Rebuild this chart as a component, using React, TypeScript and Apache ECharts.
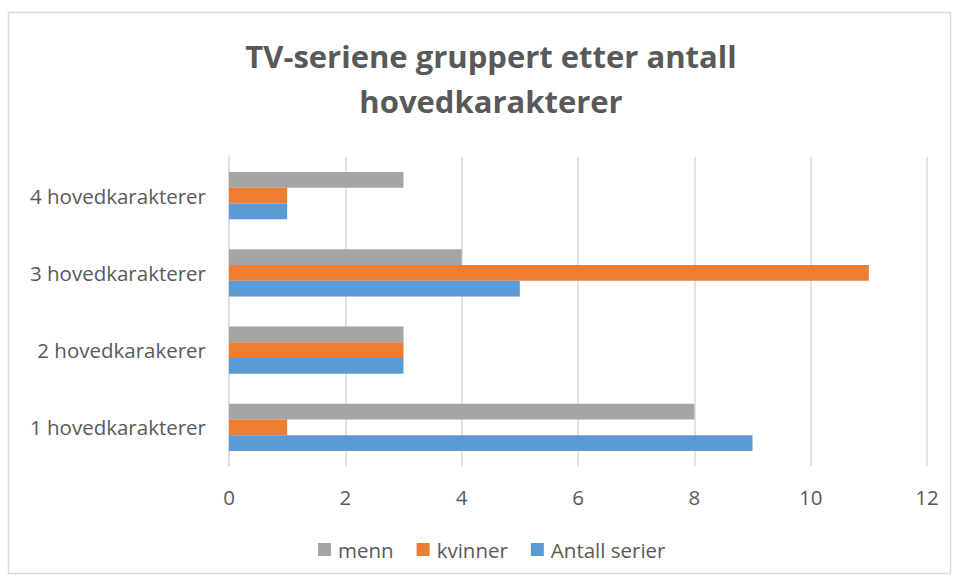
import React, { useEffect, useRef } from "react";
import * as echarts from "echarts";

const categories = ["1 hovedkarakterer", "2 hovedkarakerer", "3 hovedkarakterer", "4 hovedkarakterer"];
const antallSerier = [9, 3, 5, 1];
const kvinner = [1, 3, 11, 1];
const menn = [8, 3, 4, 3];
const xTicks = { min: 0, max: 12, interval: 2 };

const TEXT = "#595959";
const FONT = "'Open Sans', 'Liberation Sans', sans-serif";

export default function App() {
  const ref = useRef<HTMLDivElement>(null);
  useEffect(() => {
    const chart = echarts.init(ref.current!, null, { renderer: "svg" });
    chart.setOption({
      animation: false,
      backgroundColor: "#ffffff",
      textStyle: { fontFamily: FONT },
      title: {
        text: "TV-seriene gruppert etter antall\nhovedkarakterer",
        left: 486,
        top: 28,
        textAlign: "center",
        textStyle: { fontFamily: FONT, fontWeight: "bold", fontSize: 31, color: TEXT, lineHeight: 45 },
      },
      graphic: [
        {
          type: "rect",
          shape: { x: 8.5, y: 12.5, width: 942, height: 561 },
          style: { fill: "none", stroke: "#D9D9D9", lineWidth: 1.5 },
          silent: true,
        },
      ],
      legend: {
        data: ["menn", "kvinner", "Antall serier"],
        bottom: 16,
        left: 313,
        itemWidth: 13,
        itemHeight: 13,
        itemGap: 23,
        icon: "rect",
        textStyle: { fontFamily: FONT, fontSize: 20.5, color: TEXT, padding: [0, 0, 0, 2] },
      },
      grid: { left: 229, right: 32, top: 157, bottom: 115, containLabel: false },
      xAxis: {
        type: "value",
        min: xTicks.min,
        max: xTicks.max,
        interval: xTicks.interval,
        axisLine: { show: false },
        axisTick: { show: false },
        splitLine: { lineStyle: { color: "#D9D9D9", width: 1.5 } },
        axisLabel: { color: TEXT, fontSize: 20.5, fontFamily: FONT, margin: 20 },
      },
      yAxis: {
        type: "category",
        data: categories,
        axisLine: { show: true, lineStyle: { color: "#D9D9D9", width: 1.5 } },
        axisTick: { show: false },
        axisLabel: { color: TEXT, fontSize: 20.5, fontFamily: FONT, margin: 23 },
      },
      series: [
        { name: "menn", type: "bar", data: menn, itemStyle: { color: "#A5A5A5" }, barGap: "0%", barCategoryGap: "39%" },
        { name: "kvinner", type: "bar", data: kvinner, itemStyle: { color: "#ED7D31" }, barGap: "0%", barCategoryGap: "39%" },
        { name: "Antall serier", type: "bar", data: antallSerier, itemStyle: { color: "#5B9BD5" }, barGap: "0%", barCategoryGap: "39%" },
      ],
    });
    return () => chart.dispose();
  }, []);
  return <div ref={ref} style={{ position: "fixed", left: 0, top: 0, width: 959, height: 581 }} />;
}
